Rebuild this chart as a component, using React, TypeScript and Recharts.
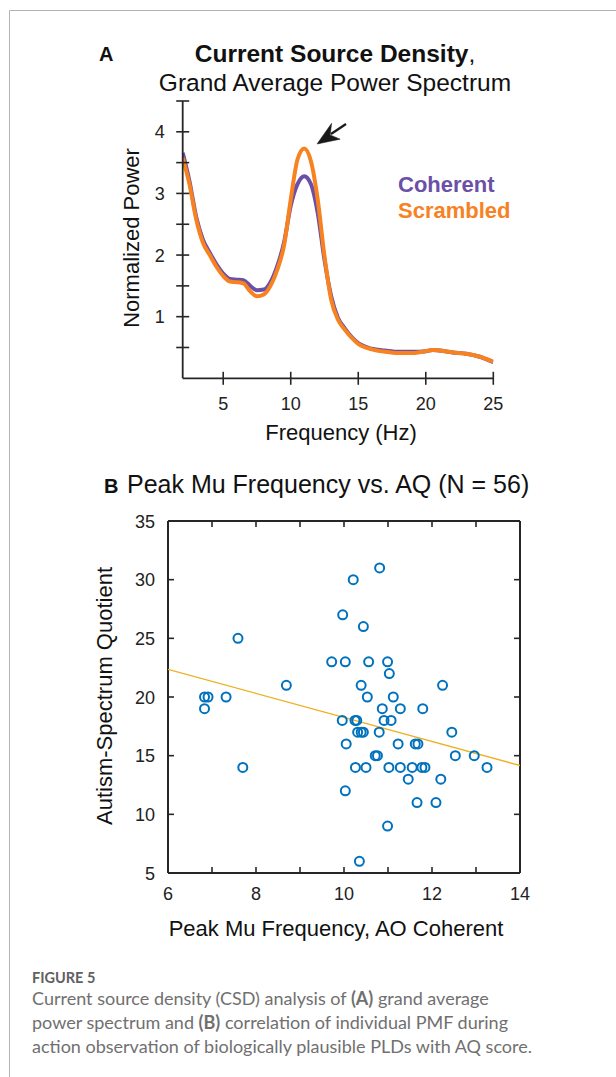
import React from "react";
import { LineChart, Line, ScatterChart, Scatter, XAxis, YAxis } from "recharts";

// panel A: grand average power spectrum
const freq = [2, 2.5, 3, 3.5, 4, 4.5, 5, 5.5, 6, 6.5, 7, 7.5, 8, 8.5, 9, 9.5, 10, 10.5, 11, 11.5, 12, 12.5, 13, 13.5, 14, 15, 16, 17, 18, 19, 20, 20.5, 21, 22, 23, 24, 25];
const coherent = [3.66, 3.2, 2.62, 2.25, 2.04, 1.85, 1.7, 1.61, 1.6, 1.59, 1.5, 1.43, 1.44, 1.56, 1.82, 2.2, 2.8, 3.15, 3.28, 3.15, 2.68, 1.92, 1.33, 0.98, 0.81, 0.57, 0.48, 0.45, 0.43, 0.43, 0.44, 0.46, 0.45, 0.42, 0.4, 0.35, 0.26];
const scrambled = [3.58, 3.15, 2.58, 2.2, 2.0, 1.81, 1.66, 1.57, 1.56, 1.54, 1.41, 1.33, 1.36, 1.5, 1.76, 2.15, 2.9, 3.55, 3.73, 3.52, 2.9, 1.98, 1.27, 0.95, 0.79, 0.56, 0.47, 0.43, 0.41, 0.41, 0.44, 0.46, 0.45, 0.42, 0.4, 0.35, 0.27];
const freqTicks = [5, 10, 15, 20, 25];
const powerTicks = [0.5, 1, 1.5, 2, 2.5, 3, 3.5, 4, 4.5];

// panel B: peak mu frequency vs AQ
const pmf = [6.83, 6.91, 6.83, 7.32, 7.59, 7.7, 8.69, 9.72, 10.03, 9.97, 10.21, 10.81, 10.44, 10.56, 10.99, 11.03, 10.39, 12.24, 10.53, 11.12, 10.87, 11.28, 11.79, 9.96, 10.25, 10.29, 10.91, 11.07, 10.31, 10.39, 10.44, 10.8, 12.45, 10.05, 11.23, 11.62, 11.68, 10.71, 10.76, 12.53, 12.96, 10.26, 10.5, 11.02, 11.28, 11.55, 11.77, 11.84, 13.25, 11.46, 12.2, 10.03, 11.66, 12.09, 10.99, 10.35];
const aq = [20, 20, 19, 20, 25, 14, 21, 23, 23, 27, 30, 31, 26, 23, 23, 22, 21, 21, 20, 20, 19, 19, 19, 18, 18, 18, 18, 18, 17, 17, 17, 17, 17, 16, 16, 16, 16, 15, 15, 15, 15, 14, 14, 14, 14, 14, 14, 14, 14, 13, 13, 12, 11, 11, 9, 6];
const fitX = [6, 14];
const fitY = [22.35, 14.16];
const pmfTicks = [6, 7, 8, 9, 10, 11, 12, 13, 14];
const aqTicks = [5, 10, 15, 20, 25, 30, 35];

const spectrum = freq.map((f, i) => ({ f, coherent: coherent[i], scrambled: scrambled[i] }));
const points = pmf.map((x, i) => ({ x, y: aq[i] }));
const fit = fitX.map((x, i) => ({ x, y: fitY[i] }));

const AXIS = "#262626";
const FONT = "'Liberation Sans', Arial, sans-serif";
const PURPLE = "#6a50a7";
const ORANGE = "#f7821f";
const BLUE = "#0072BD";

const ATickX = ({ x, y, payload }: any) => (
  <g>
    <line x1={x} x2={x} y1={y - 6.5} y2={y + 6.5} stroke={AXIS} strokeWidth={1.6} />
    <text x={x} y={y + 31.5} textAnchor="middle" fontSize={18} fontFamily={FONT} fill="#222">
      {payload.value}
    </text>
  </g>
);

const ATickY = ({ x, y, payload }: any) => (
  <g>
    <line x1={x - 6.5} x2={x + 6.5} y1={y} y2={y} stroke={AXIS} strokeWidth={1.6} />
    {Number.isInteger(payload.value) && (
      <text x={x - 18} y={y + 6.5} textAnchor="end" fontSize={18} fontFamily={FONT} fill="#222">
        {payload.value}
      </text>
    )}
  </g>
);

const BTickBottom = ({ x, y, payload }: any) => (
  <g>
    <line x1={x} x2={x} y1={y} y2={y - 6} stroke={AXIS} strokeWidth={1.6} />
    {payload.value % 2 === 0 && (
      <text x={x} y={y + 27} textAnchor="middle" fontSize={18} fontFamily={FONT} fill="#222">
        {payload.value}
      </text>
    )}
  </g>
);

const BTickTop = ({ x, y }: any) => (
  <line x1={x} x2={x} y1={y} y2={y + 6} stroke={AXIS} strokeWidth={1.6} />
);

const BTickLeft = ({ x, y, payload }: any) => (
  <g>
    <line x1={x} x2={x + 6} y1={y} y2={y} stroke={AXIS} strokeWidth={1.6} />
    <text x={x - 13} y={y + 6.5} textAnchor="end" fontSize={18} fontFamily={FONT} fill="#222">
      {payload.value}
    </text>
  </g>
);

const BTickRight = ({ x, y }: any) => (
  <line x1={x} x2={x - 6} y1={y} y2={y} stroke={AXIS} strokeWidth={1.6} />
);

const Ring = ({ cx, cy }: any) => (
  <circle cx={cx} cy={cy} r={4.5} fill="none" stroke={BLUE} strokeWidth={2} />
);

export default function App() {
  return (
    <div style={{ position: "absolute", left: 0, top: 0, width: 616, height: 1077, overflow: "hidden", background: "#fff" }}>
      <div style={{ position: "absolute", left: 0, top: 0 }}>
        <LineChart width={616} height={460} data={spectrum} margin={{ top: 101, right: 122.7, bottom: 0, left: 0 }}>
          <XAxis
            dataKey="f"
            type="number"
            domain={[2, 25]}
            ticks={freqTicks}
            interval={0}
            height={81.7}
            tickSize={0}
            tickMargin={0}
            tick={<ATickX />}
            axisLine={{ stroke: AXIS, strokeWidth: 1.8 }}
            tickLine={false}
            allowDataOverflow
          />
          <YAxis
            type="number"
            domain={[0, 4.5]}
            ticks={powerTicks}
            interval={0}
            width={182.7}
            tickSize={0}
            tickMargin={0}
            tick={<ATickY />}
            axisLine={{ stroke: AXIS, strokeWidth: 1.8 }}
            tickLine={false}
            allowDataOverflow
          />
          <Line type="monotone" dataKey="coherent" stroke={PURPLE} strokeWidth={4} dot={false} isAnimationActive={false} />
          <Line type="monotone" dataKey="scrambled" stroke={ORANGE} strokeWidth={4} dot={false} isAnimationActive={false} />
        </LineChart>
      </div>

      <div style={{ position: "absolute", left: 0, top: 500 }}>
        <ScatterChart width={616} height={450} margin={{ top: 20, right: 95, bottom: 0, left: 0 }}>
          <XAxis
            xAxisId="b"
            dataKey="x"
            type="number"
            domain={[6, 14]}
            ticks={pmfTicks}
            interval={0}
            height={77}
            tickSize={0}
            tickMargin={0}
            tick={<BTickBottom />}
            axisLine={{ stroke: AXIS, strokeWidth: 2 }}
            tickLine={false}
            allowDataOverflow
          />
          <XAxis
            xAxisId="t"
            orientation="top"
            dataKey="x"
            type="number"
            domain={[6, 14]}
            ticks={pmfTicks}
            interval={0}
            height={1}
            tickSize={0}
            tickMargin={0}
            tick={<BTickTop />}
            axisLine={{ stroke: AXIS, strokeWidth: 2 }}
            tickLine={false}
            allowDataOverflow
          />
          <YAxis
            yAxisId="l"
            dataKey="y"
            type="number"
            domain={[5, 35]}
            ticks={aqTicks}
            interval={0}
            width={168}
            tickSize={0}
            tickMargin={0}
            tick={<BTickLeft />}
            axisLine={{ stroke: AXIS, strokeWidth: 2 }}
            tickLine={false}
            allowDataOverflow
          />
          <YAxis
            yAxisId="r"
            orientation="right"
            dataKey="y"
            type="number"
            domain={[5, 35]}
            ticks={aqTicks}
            interval={0}
            width={1}
            tickSize={0}
            tickMargin={0}
            tick={<BTickRight />}
            axisLine={{ stroke: AXIS, strokeWidth: 2 }}
            tickLine={false}
            allowDataOverflow
          />
          <Scatter
            data={fit}
            xAxisId="t"
            yAxisId="r"
            line={{ stroke: "#EDB120", strokeWidth: 1.3 }}
            shape={() => <g />}
            isAnimationActive={false}
          />
          <Scatter data={points} xAxisId="b" yAxisId="l" shape={<Ring />} isAnimationActive={false} />
        </ScatterChart>
      </div>

      <svg width={616} height={1077} style={{ position: "absolute", left: 0, top: 0, pointerEvents: "none" }}>
        <path d="M9.5 1077 V10.5 H616" fill="none" stroke="#b4b4b4" strokeWidth={1} />

        <g fontFamily={FONT} fill="#111">
          <text x={99} y={61} fontSize={20} fontWeight="bold">A</text>
          <text x={335} y={62} fontSize={24.5} textAnchor="middle">
            <tspan fontWeight="bold">Current Source Density</tspan>,
          </text>
          <text x={335} y={91} fontSize={24.5} textAnchor="middle">Grand Average Power Spectrum</text>
          <text x={398} y={192} fontSize={22} fontWeight="bold" fill={PURPLE}>Coherent</text>
          <text x={398} y={218} fontSize={22} fontWeight="bold" fill={ORANGE}>Scrambled</text>
          <text x={341} y={440} fontSize={22} textAnchor="middle">Frequency (Hz)</text>
          <text transform="translate(139 238) rotate(-90)" fontSize={22} textAnchor="middle">Normalized Power</text>

          <text x={104} y={493} fontSize={20} fontWeight="bold">B</text>
          <text x={127} y={493} fontSize={25}>Peak Mu Frequency vs. AQ (N = 56)</text>
          <text x={336} y={936} fontSize={22} textAnchor="middle">Peak Mu Frequency, AO Coherent</text>
          <text transform="translate(112 696) rotate(-90)" fontSize={22} textAnchor="middle">Autism-Spectrum Quotient</text>
        </g>

        <g fill="#1a1a1a" stroke="#1a1a1a">
          <line x1={346} y1={124} x2={331} y2={134} strokeWidth={2.2} />
          <path d="M317 144 L331.6 123.3 L330.2 134.9 L340.2 139.2 Z" strokeWidth={0.5} />
        </g>

        <g fontFamily="Lato, sans-serif" fill="#707070">
          <text x={32} y={983} fontSize={14.5} fontWeight="bold" fill="#606060">FIGURE 5</text>
          <text x={32} y={1005} fontSize={18}>
            Current source density (CSD) analysis of <tspan fontWeight="bold">(A)</tspan> grand average
          </text>
          <text x={32} y={1029} fontSize={18}>
            power spectrum and <tspan fontWeight="bold">(B)</tspan> correlation of individual PMF during
          </text>
          <text x={32} y={1053} fontSize={18}>
            action observation of biologically plausible PLDs with AQ score.
          </text>
        </g>
      </svg>
    </div>
  );
}
